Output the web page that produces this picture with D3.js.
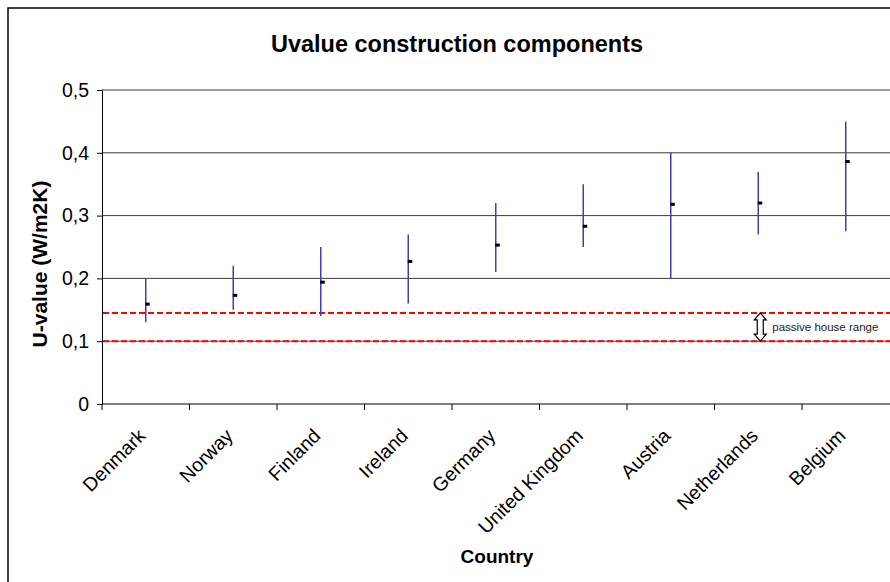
<!DOCTYPE html>
<meta charset="utf-8">
<script src="https://d3js.org/d3.v7.min.js"></script>
<style>
  body { margin: 0; background: #fff; }
  svg text { font-family: Arial, "Liberation Sans", sans-serif; }
</style>
<div id="chart"></div>
<script>
  // values
  var countries = ["Denmark", "Norway", "Finland", "Ireland", "Germany",
                   "United Kingdom", "Austria", "Netherlands", "Belgium"];
  var lowValues  = [0.13, 0.15, 0.14, 0.16, 0.21, 0.25, 0.20, 0.27, 0.275];
  var highValues = [0.20, 0.22, 0.25, 0.27, 0.32, 0.35, 0.40, 0.37, 0.45];
  var meanValues = [0.159, 0.173, 0.194, 0.227, 0.253, 0.283, 0.318, 0.32, 0.386];
  var passiveRange = [0.1, 0.145];
  var yTicks = [0, 0.1, 0.2, 0.3, 0.4, 0.5];

  var W = 890, H = 582;
  var margin = {top: 90, right: 0.5, bottom: 178, left: 102};

  var svg = d3.select("#chart").append("svg")
    .attr("width", W)
    .attr("height", H);

  // chart border
  svg.append("rect")
    .attr("x", 8).attr("y", 8)
    .attr("width", 900).attr("height", 600)
    .attr("fill", "#fff")
    .attr("stroke", "#000")
    .attr("stroke-width", 1.5);

  var x = d3.scaleBand()
    .domain(countries)
    .range([margin.left, W - margin.right]);

  var y = d3.scaleLinear()
    .domain([0, 0.5])
    .range([H - margin.bottom, margin.top]);

  // gridlines
  svg.append("g")
    .selectAll("line")
    .data(yTicks.slice(1))
    .enter().append("line")
      .attr("x1", margin.left)
      .attr("x2", W)
      .attr("y1", function(d) { return y(d); })
      .attr("y2", function(d) { return y(d); })
      .attr("stroke", "#3a3a3a")
      .attr("stroke-width", 1);

  // y axis
  var yAxis = svg.append("g")
    .attr("transform", "translate(" + margin.left + ",0)")
    .call(d3.axisLeft(y).tickValues(yTicks).tickSize(5).tickPadding(8)
      .tickFormat(function(d) { return d === 0 ? "0" : d3.format(".1f")(d).replace(".", ","); }));
  yAxis.select(".domain").attr("stroke", "#000");
  yAxis.selectAll(".tick line").attr("stroke", "#000");
  yAxis.selectAll("text")
    .attr("font-size", "19.5px")
    .attr("font-family", "Arial, 'Liberation Sans', sans-serif")
    .attr("fill", "#000");

  // x axis with ticks at the category boundaries
  var xAxis = svg.append("g")
    .attr("transform", "translate(0," + y(0) + ")");
  xAxis.append("line")
    .attr("x1", margin.left).attr("x2", W)
    .attr("stroke", "#000");
  xAxis.selectAll(".bound")
    .data(countries)
    .enter().append("line")
      .attr("class", "bound")
      .attr("x1", function(d) { return x(d); })
      .attr("x2", function(d) { return x(d); })
      .attr("y1", 0).attr("y2", 6)
      .attr("stroke", "#000");

  svg.append("g")
    .selectAll("text")
    .data(countries)
    .enter().append("text")
      .attr("transform", function(d) {
        return "translate(" + (x(d) + x.bandwidth() / 2 + 1) + "," + (y(0) + 33) + ") rotate(-45)";
      })
      .attr("text-anchor", "end")
      .attr("font-size", "19.5px")
      .text(function(d) { return d; });

  // passive house range lines
  svg.append("g")
    .selectAll("line")
    .data(passiveRange)
    .enter().append("line")
      .attr("x1", margin.left + 1)
      .attr("x2", W)
      .attr("y1", function(d) { return y(d); })
      .attr("y2", function(d) { return y(d); })
      .attr("stroke", "#ff0000")
      .attr("stroke-width", 2)
      .attr("stroke-dasharray", "6,3");

  // error bars
  svg.append("g")
    .selectAll("line")
    .data(countries)
    .enter().append("line")
      .attr("x1", function(d) { return x(d) + x.bandwidth() / 2; })
      .attr("x2", function(d) { return x(d) + x.bandwidth() / 2; })
      .attr("y1", function(d, i) { return y(lowValues[i]); })
      .attr("y2", function(d, i) { return y(highValues[i]); })
      .attr("stroke", "#4040ac")
      .attr("stroke-width", 1.5);

  // mean markers
  svg.append("g")
    .selectAll("rect")
    .data(countries)
    .enter().append("rect")
      .attr("x", function(d) { return x(d) + x.bandwidth() / 2 - 0.5; })
      .attr("y", function(d, i) { return y(meanValues[i]) - 1.5; })
      .attr("width", 4.5)
      .attr("height", 3)
      .attr("fill", "#000");

  // double arrow + label
  var ax = x("Netherlands") + x.bandwidth() / 2 + 2;
  var yT = y(passiveRange[1]), yB = y(passiveRange[0]);
  var hw = 6, sw = 3, hh = 7;
  svg.append("path")
    .attr("d", "M" + ax + "," + yT +
      "L" + (ax + hw) + "," + (yT + hh) + "L" + (ax + sw) + "," + (yT + hh) +
      "L" + (ax + sw) + "," + (yB - hh) + "L" + (ax + hw) + "," + (yB - hh) +
      "L" + ax + "," + yB +
      "L" + (ax - hw) + "," + (yB - hh) + "L" + (ax - sw) + "," + (yB - hh) +
      "L" + (ax - sw) + "," + (yT + hh) + "L" + (ax - hw) + "," + (yT + hh) + "Z")
    .attr("fill", "#fff")
    .attr("stroke", "#000")
    .attr("stroke-width", 1.2);
  svg.append("text")
    .attr("x", ax + 12)
    .attr("y", (yT + yB) / 2 + 4)
    .attr("font-size", "11.5px")
    .attr("fill", "#222")
    .text("passive house range");

  // titles
  svg.append("text")
    .attr("x", 457).attr("y", 52)
    .attr("text-anchor", "middle")
    .attr("font-size", "23.5px")
    .attr("font-weight", "bold")
    .text("Uvalue construction components");

  svg.append("text")
    .attr("x", 497).attr("y", 563)
    .attr("text-anchor", "middle")
    .attr("font-size", "19px")
    .attr("font-weight", "bold")
    .text("Country");

  svg.append("text")
    .attr("transform", "translate(47," + 264 + ") rotate(-90)")
    .attr("text-anchor", "middle")
    .attr("font-size", "21px")
    .attr("font-weight", "bold")
    .text("U-value (W/m2K)");
</script>
